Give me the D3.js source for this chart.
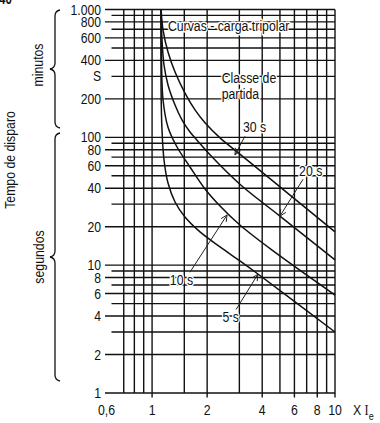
<!DOCTYPE html>
<html><head><meta charset="utf-8">
<script src="https://cdn.jsdelivr.net/npm/d3@7"></script>
<style>
body{margin:0;background:#fff}
svg text{font-family:"Liberation Sans Narrow","Arial Narrow","Liberation Sans",Arial,sans-serif;fill:#111}
.halo{paint-order:stroke;stroke:#fff;stroke-width:3px;stroke-linejoin:round}
</style></head><body>
<svg id="c" width="380" height="423"></svg>
<script>
// ---- data ----
const xGrid=[0.7,0.8,0.9,1,1.5,2,3,4,5,6,7,8,9,10];
const xTicks=[0.6,1,2,4,6,8,10];
const xTickLabels=["0,6","1","2","4","6","8","10"];
const yMajor=[1000,800,600,400,200,100,80,60,40,20,10,8,6,4,2,1];
const yMinor=[900,700,500,300,90,70,50,30,9,7,5,3];
const yTicks=[1000,800,600,400,300,200,100,80,60,40,20,10,8,6,4,2,1];
const yTickLabels=["1.000","800","600","400","S","200","100","80","60","40","20","10","8","6","4","2","1"];

const current30=[1.12,1.148,1.222,1.335,1.513,1.717,1.947,2.352,3.02,5.0,10];
const time30   =[1000,690,465,324,222,164,130,99,74,41,18.2];
const current20=[1.12,1.133,1.162,1.222,1.335,1.457,1.612,1.761,2.073,3.02,5.0,10];
const time20   =[1000,577,368,257,179,137,110,95,73,43,24.2,11];
const current10=[1.12,1.126,1.148,1.222,1.369,1.612,1.947,2.352,3.02,4.53,10];
const time10   =[1000,403,196,120,84,58.6,39.4,29,20.6,13.1,5.84];
const current5 =[1.12,1.12,1.133,1.162,1.222,1.335,1.513,1.828,2.352,3.02,3.79,10];
const time5    =[1000,235,114,66.5,43.9,31.2,23.8,18.2,13.9,10.8,8.53,3.0];

const classLabels=["30 s","20 s","10 s","5 s"];
const labelI=[3.14,6.36,1.25,2.43];
const labelT=[111,50,7,3.6];
const arrowFromI=[3.22,6.69,1.61,2.88];
const arrowFromT=[102,47,8.8,4.5];
const arrowToI=[2.84,5.0,2.57,3.79];
const arrowToT=[73,24.2,24.7,8.5];

// ---- chart ----
const svg=d3.select("#c");
const x=d3.scaleLog().domain([0.6,10]).range([111.5,335]);
const y=d3.scaleLog().domain([1,1000]).range([393,9.5]);
const ink="#111";
const SX=0.82; // narrow type

function txt(g,px,py,str,opt={}){
  const t=g.append("text")
    .attr("transform",`translate(${px},${py})${opt.rot?` rotate(${opt.rot})`:""} scale(${opt.sx||SX},1)`)
    .attr("font-size",opt.size||15)
    .attr("text-anchor",opt.anchor||"start");
  if(opt.halo) t.attr("class","halo");
  if(opt.bold) t.attr("font-weight","bold");
  if(str!=null) t.text(str);
  return t;
}

const grid=svg.append("g").attr("stroke",ink).attr("stroke-width",1.4);
grid.selectAll(".hmaj").data(yMajor).join("line")
  .attr("x1",105).attr("x2",x(10)).attr("y1",d=>y(d)).attr("y2",d=>y(d));
grid.selectAll(".hmin").data(yMinor).join("line")
  .attr("x1",x(0.6)).attr("x2",x(10)).attr("y1",d=>y(d)).attr("y2",d=>y(d));
grid.selectAll(".v").data(xGrid).join("line")
  .attr("x1",d=>x(d)).attr("x2",d=>x(d)).attr("y1",y(1000)).attr("y2",y(1));
grid.selectAll(".xt").data(xTicks.slice(1)).join("line")
  .attr("x1",d=>x(d)).attr("x2",d=>x(d)).attr("y1",y(1)).attr("y2",y(1)+4.5);

// y tick labels
const yl=svg.append("g");
yTicks.forEach((d,i)=>txt(yl,101,y(d)+5,yTickLabels[i],{anchor:"end",size:14,sx:0.87}));
// x tick labels
const xl=svg.append("g");
xTicks.forEach((d,i)=>txt(xl,x(d)+(i===0?-5:0),415,xTickLabels[i],{anchor:"middle"}));
// x axis title
const xt=txt(svg,353,415,null);
xt.append("tspan").text("X ");
xt.append("tspan").attr("font-family","Liberation Serif").text("I");
xt.append("tspan").attr("font-size",11).attr("dy",5).text("e");

// curves
const line=d3.line().x(d=>x(d[0])).y(d=>y(d[1])).curve(d3.curveCatmullRom.alpha(0.5));
const series=[[current30,time30],[current20,time20],[current10,time10],[current5,time5]];
svg.append("g").selectAll("path").data(series).join("path")
  .attr("d",s=>line(s[0].map((v,i)=>[v,s[1][i]])))
  .attr("fill","none").attr("stroke",ink).attr("stroke-width",1.5);

// arrows
const ag=svg.append("g").attr("stroke","#222").attr("stroke-width",1).attr("fill","none");
classLabels.forEach((lab,i)=>{
  const x1=x(arrowFromI[i]),y1=y(arrowFromT[i]),x2=x(arrowToI[i]),y2=y(arrowToT[i]);
  ag.append("line").attr("x1",x1).attr("y1",y1).attr("x2",x2).attr("y2",y2);
  const a=Math.atan2(y1-y2,x1-x2),L=7,w=0.45;
  ag.append("path").attr("d",`M${x2+L*Math.cos(a+w)},${y2+L*Math.sin(a+w)}L${x2},${y2}L${x2+L*Math.cos(a-w)},${y2+L*Math.sin(a-w)}`);
});
// labels with halo
const tg=svg.append("g");
classLabels.forEach((lab,i)=>txt(tg,x(labelI[i]),y(labelT[i]),lab,{halo:true}));
txt(tg,x(1.22),y(673),"Curvas - carga tripolar",{halo:true});
txt(tg,x(2.40),y(266),"Classe de",{halo:true});
txt(tg,x(2.40),y(198),"partida",{halo:true});

// left annotations: braces and titles
const br=svg.append("g").attr("stroke",ink).attr("stroke-width",1.3).attr("fill","none");
function brace(t,b){
  const m=(t+b)/2;
  return `M60,${t}Q55,${t+1} 55,${t+6}L55,${m-6}Q55,${m-1} 50,${m}Q55,${m+1} 55,${m+6}L55,${b-6}Q55,${b-1} 60,${b}`;
}
br.append("path").attr("d",brace(10,128));
br.append("path").attr("d",brace(133,381));
txt(svg,43,65,"minutos",{rot:-90,anchor:"middle"});
txt(svg,44,257,"segundos",{rot:-90,anchor:"middle"});
txt(svg,15,160,"Tempo de disparo",{rot:-90,anchor:"middle"});
txt(svg,-1,3.5,"40",{size:14,bold:true});
</script>
</body></html>
